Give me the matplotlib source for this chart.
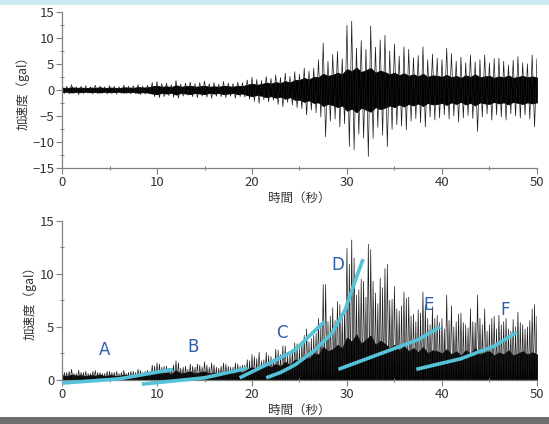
import numpy as np
import matplotlib
matplotlib.use("Agg")
import matplotlib.pyplot as plt
from matplotlib.patches import Rectangle

plt.rcParams['font.family'] = ['Noto Sans CJK JP', 'DejaVu Sans']

# ---- data (0.5 s steps, t = 0 ... 50 s) ----
time_s = [i * 0.5 for i in range(101)]

# positive peaks in each 0.5 s step (gal)
peak_up = [0.8, 0.7, 1.0, 0.6, 0.7, 0.8, 0.6, 0.9, 0.7, 0.6,
           0.8, 0.7, 0.6, 0.9, 0.7, 0.8, 1.0, 0.7, 0.9, 1.4,
           1.6, 1.2, 1.3, 1.0, 1.8, 1.1, 1.3, 1.5, 1.2, 1.4,
           1.7, 1.2, 1.4, 1.1, 1.6, 1.3, 1.2, 1.5, 1.4, 1.9,
           2.4, 2.0, 1.8, 2.6, 2.2, 2.9, 2.4, 3.2, 2.6, 3.5,
           3.0, 4.2, 3.6, 4.2, 5.8, 9.0, 5.5, 6.8, 7.4, 6.0,
           12.4, 13.2, 8.0, 9.5, 7.8, 12.3, 8.2, 9.6, 10.5, 7.5,
           8.8, 6.5, 8.3, 7.8, 6.2, 6.6, 8.3, 5.8, 6.9, 6.1,
           5.8, 8.0, 7.0, 5.5, 6.3, 5.2, 6.7, 5.4, 5.8, 6.7,
           5.2, 6.0, 6.1, 5.5, 4.8, 5.7, 6.4, 5.2, 5.0, 6.7,
           6.0]

# magnitudes of negative peaks in each 0.5 s step (gal)
peak_down = [0.7, 0.8, 0.6, 0.9, 0.7, 0.6, 0.8, 0.7, 0.6, 0.8,
             0.7, 0.8, 0.7, 0.6, 0.8, 0.7, 0.9, 0.8, 0.8, 1.3,
             1.5, 1.3, 1.1, 1.4, 1.6, 1.2, 1.0, 1.3, 1.5, 1.2,
             1.4, 1.6, 1.2, 1.3, 1.5, 1.2, 1.6, 1.3, 1.4, 1.8,
             2.2, 2.6, 1.9, 2.3, 2.0, 2.8, 3.2, 2.4, 2.9, 3.4,
             3.6, 4.8, 3.9, 4.4, 5.2, 9.0, 6.0, 5.6, 7.1, 6.5,
             10.9, 11.5, 8.5, 9.3, 12.8, 9.3, 7.2, 8.7, 10.9, 7.6,
             6.7, 7.0, 7.7, 6.0, 5.5, 6.3, 7.1, 5.2, 5.8, 5.4,
             4.8, 5.6, 5.0, 6.2, 5.4, 4.9, 5.5, 8.0, 5.2, 4.6,
             5.8, 4.8, 5.2, 5.8, 4.6, 5.0, 5.4, 4.8, 5.6, 7.1,
             5.5]

# half-width of the dense black core, 0.5 s steps (gal)
core_amp = [0.45, 0.35, 0.5, 0.4, 0.45, 0.35, 0.45, 0.4, 0.5, 0.35,
            0.45, 0.4, 0.35, 0.5, 0.45, 0.4, 0.55, 0.45, 0.5, 0.7,
            0.8, 0.6, 0.7, 0.55, 0.9, 0.6, 0.7, 0.8, 0.6, 0.7,
            0.8, 0.6, 0.7, 0.6, 0.8, 0.7, 0.6, 0.8, 0.7, 1.0,
            1.2, 1.0, 1.1, 1.4, 1.2, 1.5, 1.3, 1.7, 1.4, 1.9,
            1.9, 2.3, 2.0, 2.5, 2.4, 3.1, 2.7, 2.9, 3.3, 3.0,
            4.0, 3.6, 4.3, 3.4, 3.8, 4.2, 3.3, 3.7, 3.4, 3.0,
            3.3, 2.8, 3.2, 2.7, 3.0, 2.6, 3.1, 2.5, 2.8, 2.7,
            2.5, 2.9, 2.4, 2.7, 2.3, 2.8, 2.5, 3.0, 2.4, 2.6,
            2.7, 2.3, 2.6, 2.4, 2.8, 2.3, 2.5, 2.7, 2.4, 2.6,
            2.4]

# cyan trend curves in the lower panel (x in s, y in gal)
curve_A_x = [0.0, 6.0, 11.7];            curve_A_y = [-0.3, 0.1, 1.0]
curve_B_x = [8.4, 15.0, 19.5];           curve_B_y = [-0.4, 0.2, 1.1]
curve_C_x = [18.7, 21.9, 24.5, 27.6];    curve_C_y = [0.2, 1.6, 2.8, 5.5]
curve_D_x = [21.5, 23.0, 24.5, 26.6, 28.4, 29.8, 30.8, 31.7]
curve_D_y = [0.2, 0.7, 1.4, 2.8, 4.4, 6.6, 9.2, 11.4]
curve_E_x = [29.1, 34.2, 37.5, 39.8];    curve_E_y = [1.0, 2.7, 3.8, 5.0]
curve_F_x = [37.3, 42.0, 45.5, 47.9];    curve_F_y = [1.0, 2.0, 3.2, 4.5]
curve_labels = ['A', 'B', 'C', 'D', 'E', 'F']
label_x = [4.5, 13.8, 23.1, 29.0, 38.6, 46.7]
label_y = [2.8, 3.1, 4.4, 10.8, 7.1, 6.6]

x_ticks = [0, 10, 20, 30, 40, 50]
y_ticks_top = [-15, -10, -5, 0, 5, 10, 15]
y_ticks_bottom = [0, 5, 10, 15]


def zigzag(times, pos, neg, dt):
    """Alternate +pos / -neg peaks: pos at each time, neg dt later."""
    times = np.asarray(times, float)
    zt = np.empty(2 * len(times))
    zv = np.empty(2 * len(times))
    zt[0::2] = times
    zt[1::2] = times + dt
    zv[0::2] = pos
    zv[1::2] = -np.asarray(neg, float)
    return zt, zv


def fold(zt, zv):
    """Absolute value of a piecewise-linear trace (adds the zero crossings)."""
    at, av = [], []
    for i in range(len(zt) - 1):
        a, b = zv[i], zv[i + 1]
        at.append(zt[i]); av.append(abs(a))
        if a * b < 0:
            f = abs(a) / (abs(a) + abs(b))
            at.append(zt[i] + f * (zt[i + 1] - zt[i])); av.append(0.0)
    at.append(zt[-1]); av.append(abs(zv[-1]))
    return at, av


tr_t, tr_v = zigzag(time_s, peak_up, peak_down, 0.25)
abs_t, abs_v = fold(tr_t, tr_v)
core = np.asarray(core_amp)

fig = plt.figure(figsize=(5.49, 4.24), dpi=100)
fig.patch.set_facecolor('white')
fig.add_artist(Rectangle((0, 1 - 5 / 424), 1, 5 / 424, transform=fig.transFigure,
                         facecolor='#cdeaf3', edgecolor='none'))
fig.add_artist(Rectangle((0, 0), 1, 7 / 424, transform=fig.transFigure,
                         facecolor='#6e6e6e', edgecolor='none'))

spine_c = '#808080'
text_c = '#333333'


def style(ax):
    for s in ['top', 'right']:
        ax.spines[s].set_visible(False)
    for s in ['left', 'bottom']:
        ax.spines[s].set_color(spine_c)
        ax.spines[s].set_linewidth(0.9)
    ax.tick_params(axis='both', which='major', colors=spine_c, labelcolor=text_c,
                   labelsize=9.5, length=4, width=0.8, direction='out', pad=1.5)
    ax.tick_params(axis='both', which='minor', colors=spine_c, length=2.5,
                   width=0.7, direction='inout')
    ax.set_xlim(0, 50)
    ax.set_xticks(x_ticks)
    ax.set_xticks([5, 15, 25, 35, 45], minor=True)


ax1 = fig.add_axes([0.113, 0.604, 0.865, 0.368])
style(ax1)
ax1.fill_between(time_s, -core, core, color='black', lw=0.6)
ax1.plot(tr_t, tr_v, color='#1a1a1a', lw=0.5)
ax1.set_ylim(-15, 15)
ax1.set_yticks(y_ticks_top)
ax1.set_yticks(np.arange(-15, 15.1, 2.5), minor=True)
ax1.set_ylabel('加速度（gal）', fontsize=9, color=text_c, labelpad=2)
ax1.set_xlabel('時間（秒）', fontsize=9, color=text_c, labelpad=2)

ax2 = fig.add_axes([0.113, 0.104, 0.865, 0.375])
style(ax2)
ax2.fill_between(time_s, 0, core, color='black', lw=0.6)
ax2.plot(abs_t, abs_v, color='#1a1a1a', lw=0.5)
ax2.set_ylim(0, 15)
ax2.set_yticks(y_ticks_bottom)
ax2.set_yticks(np.arange(0, 15.1, 2.5), minor=True)
ax2.set_ylabel('加速度（gal）', fontsize=9, color=text_c, labelpad=2)
ax2.set_xlabel('時間（秒）', fontsize=9, color=text_c, labelpad=2)

cyan = '#55c2d8'
for cx, cy in [(curve_A_x, curve_A_y), (curve_B_x, curve_B_y), (curve_C_x, curve_C_y),
               (curve_D_x, curve_D_y), (curve_E_x, curve_E_y), (curve_F_x, curve_F_y)]:
    ax2.plot(cx, cy, color=cyan, lw=2.6, solid_capstyle='butt',
             solid_joinstyle='round', clip_on=False, zorder=5)
for lab, lx, ly in zip(curve_labels, label_x, label_y):
    ax2.text(lx, ly, lab, color='#2f5fa8', fontsize=12, ha='center', va='center',
             family=['DejaVu Sans'], zorder=6)

fig.savefig('out.png', dpi=100)
